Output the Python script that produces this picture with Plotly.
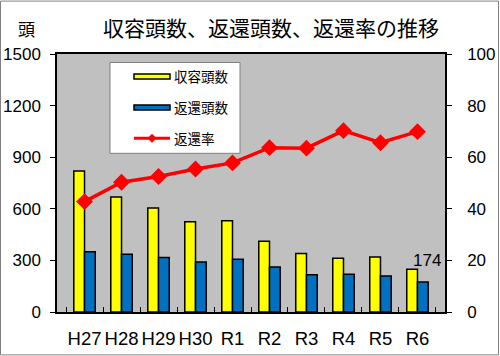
import plotly.graph_objects as go

# ---- data ----
years = ["H27", "H28", "H29", "H30", "R1", "R2", "R3", "R4", "R5", "R6"]
intake = [820, 668, 604, 525, 531, 411, 340, 313, 320, 249]
returned = [351, 336, 317, 291, 307, 262, 216, 220, 210, 174]
return_rate = [42.8, 50.3, 52.5, 55.4, 57.8, 63.7, 63.5, 70.3, 65.6, 69.9]

left_ticks = [0, 300, 600, 900, 1200, 1500]
right_ticks = [0, 20, 40, 60, 80, 100]

W, H = 500, 356
PL, PR, PT, PB = 57, 445, 53.5, 312  # plot area in pixels


def fx(px):
    return (px - PL) / (PR - PL)


def fy(py):
    return (PB - py) / (PB - PT)


FONT = "Liberation Sans, Arial, Noto Sans CJK JP"
JFONT = "Noto Sans CJK JP, Liberation Sans"
YELLOW = "#FFFF00"
BLUE = "#0070C0"
RED = "#FF0000"

fig = go.Figure()
fig.add_trace(go.Bar(x=years, y=intake, name="収容頭数",
                     marker=dict(color=YELLOW, line=dict(color="black", width=1.5)),
                     showlegend=False))
fig.add_trace(go.Bar(x=years, y=returned, name="返還頭数",
                     marker=dict(color=BLUE, line=dict(color="black", width=1.5)),
                     showlegend=False))
fig.add_trace(go.Scatter(x=years, y=return_rate, name="返還率", yaxis="y2",
                         mode="lines+markers",
                         line=dict(color=RED, width=3.5),
                         marker=dict(symbol="diamond", size=13, color=RED),
                         showlegend=False))

shapes = []
annotations = []

# figure border
shapes.append(dict(type="rect", xref="paper", yref="paper",
                   x0=fx(0.5), x1=fx(498.5), y0=fy(355), y1=fy(0.5),
                   line=dict(color="#808080", width=1), fillcolor="rgba(0,0,0,0)", layer="above"))

# manual legend (Excel style)
shapes.append(dict(type="rect", xref="paper", yref="paper",
                   x0=fx(110), x1=fx(240), y0=fy(153), y1=fy(62),
                   line=dict(color="#808080", width=1), fillcolor="white", layer="above"))
legend_items = [("収容頭数", YELLOW, 76), ("返還頭数", BLUE, 107)]
for label, col, cy in legend_items:
    shapes.append(dict(type="rect", xref="paper", yref="paper",
                       x0=fx(134), x1=fx(170), y0=fy(cy + 2.5), y1=fy(cy - 2.5),
                       line=dict(color="black", width=1.5), fillcolor=col, layer="above"))
    annotations.append(dict(text=label, xref="paper", yref="paper", x=fx(172), y=fy(cy),
                            xanchor="left", yanchor="middle", showarrow=False,
                            font=dict(family=JFONT, size=13.5, color="black")))
cy = 138
shapes.append(dict(type="line", xref="paper", yref="paper",
                   x0=fx(134), x1=fx(170), y0=fy(cy), y1=fy(cy),
                   line=dict(color=RED, width=3), layer="above"))
shapes.append(dict(type="path", xref="paper", yref="paper",
                   path=f"M {fx(152)},{fy(cy-4)} L {fx(156)},{fy(cy)} L {fx(152)},{fy(cy+4)} L {fx(148)},{fy(cy)} Z",
                   line=dict(color=RED, width=1), fillcolor=RED, layer="above"))
annotations.append(dict(text="返還率", xref="paper", yref="paper", x=fx(172), y=fy(cy),
                        xanchor="left", yanchor="middle", showarrow=False,
                        font=dict(family=JFONT, size=13.5, color="black")))

# unit label
annotations.append(dict(text="頭", xref="paper", yref="paper", x=fx(26), y=fy(28),
                        xanchor="center", yanchor="middle", showarrow=False,
                        font=dict(family=JFONT, size=17, color="black")))

# value label on last returned bar
annotations.append(dict(text=str(returned[-1]), x=years[-1], y=returned[-1], xref="x", yref="y",
                        xanchor="center", yanchor="bottom", showarrow=False,
                        xshift=10, yshift=10,
                        font=dict(family=FONT, size=17, color="black")))

fig.update_layout(
    width=W, height=H,
    margin=dict(l=PL, r=W - PR, t=PT, b=H - PB, pad=0, autoexpand=False),
    paper_bgcolor="white",
    plot_bgcolor="#C0C0C0",
    barmode="group", bargap=0.42, bargroupgap=0,
    title=dict(text="収容頭数、返還頭数、返還率の推移", xref="container", yref="container",
               x=271 / W, y=1 - 29 / H, xanchor="center", yanchor="middle",
               font=dict(family=JFONT, size=21, color="black")),
    xaxis=dict(showline=True, linecolor="black", linewidth=1.5, mirror=True,
               ticks="inside", ticklen=5, tickcolor="black", tickson="boundaries",
               tickangle=0, automargin=False,
               tickfont=dict(family=FONT, size=18.5, color="black"),
               ticklabelstandoff=9, showgrid=False),
    yaxis=dict(range=[0, 1500], tickvals=left_ticks, showgrid=False,
               showline=True, linecolor="black", linewidth=1.5,
               ticks="outside", ticklen=5, tickcolor="black", automargin=False,
               tickfont=dict(family=FONT, size=17, color="black"),
               ticklabelstandoff=6, zeroline=False),
    yaxis2=dict(range=[0, 100], tickvals=right_ticks, overlaying="y", side="right",
                showgrid=False, showline=True, linecolor="black", linewidth=1.5,
                ticks="outside", ticklen=5, tickcolor="black", automargin=False,
                tickfont=dict(family=FONT, size=17, color="black"),
                ticklabelstandoff=12, zeroline=False),
    shapes=shapes,
    annotations=annotations,
)

fig.write_html("out.html",
               config={"displayModeBar": False},
               post_script="document.body.style.margin='0';document.body.style.padding='0';")
